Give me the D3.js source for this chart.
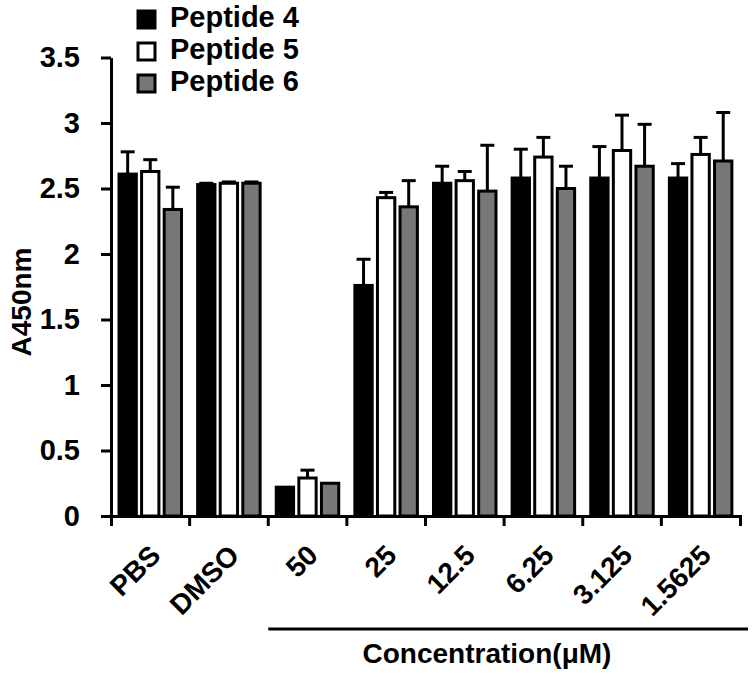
<!DOCTYPE html>
<html>
<head>
<meta charset="utf-8">
<script src="https://cdn.jsdelivr.net/npm/d3@7"></script>
<style>
  body { margin: 0; background: #fff; }
  text { font-family: "Liberation Sans", Arial, sans-serif; fill: #000; font-weight: bold; }
</style>
</head>
<body>
<div id="chart"></div>
<script>
// data
var categories = ["PBS", "DMSO", "50", "25", "12.5", "6.25", "3.125", "1.5625"];
var seriesNames = ["Peptide 4", "Peptide 5", "Peptide 6"];
var pep4 = [2.61, 2.53, 0.22, 1.76, 2.54, 2.58, 2.58, 2.58];
var pep4Err = [0.17, 0.01, 0, 0.20, 0.13, 0.22, 0.24, 0.11];
var pep5 = [2.63, 2.54, 0.29, 2.43, 2.56, 2.74, 2.79, 2.76];
var pep5Err = [0.09, 0.01, 0.06, 0.04, 0.07, 0.15, 0.27, 0.13];
var pep6 = [2.34, 2.54, 0.25, 2.36, 2.48, 2.50, 2.67, 2.71];
var pep6Err = [0.17, 0.01, 0, 0.20, 0.35, 0.17, 0.32, 0.37];
var yTicks = [0, 0.5, 1, 1.5, 2, 2.5, 3, 3.5];
var colors = ["#000000", "#ffffff", "#777777"];

var svgWidth = 752;
var svgHeight = 677;

var svg = d3.select("#chart").append("svg")
    .attr("width", svgWidth)
    .attr("height", svgHeight);

// build rows for the bars
var values = [pep4, pep5, pep6];
var errs = [pep4Err, pep5Err, pep6Err];
var rows = [];
categories.forEach(function(c, i) {
  seriesNames.forEach(function(s, j) {
    rows.push({cat: c, series: s, idx: j, value: values[j][i], err: errs[j][i]});
  });
});

// scales
var xScale = d3.scaleBand().domain(categories).range([111, 740]);
var xInner = d3.scaleBand().domain(seriesNames)
    .range([6.5, 72]).paddingInner(0.1);
var yScale = d3.scaleLinear().domain([0, 3.5]).range([516, 57.5]);

// y axis
var yAxis = svg.append("g")
    .attr("transform", "translate(111,0)")
    .call(d3.axisLeft(yScale).tickValues(yTicks)
      .tickFormat(d3.format("~g"))
      .tickSize(10).tickSizeOuter(0).tickPadding(21));
yAxis.selectAll("path, line").attr("stroke", "#000").attr("stroke-width", 3);
yAxis.selectAll("text").style("font-size", "29px")
    .style("font-family", "'Liberation Sans', Arial, sans-serif")
    .style("font-weight", "bold");

// bars
var barStroke = 3;
svg.append("g").selectAll("rect")
  .data(rows)
  .enter()
  .append("rect")
    .attr("x", d => xScale(d.cat) + xInner(d.series) + barStroke / 2)
    .attr("y", d => yScale(d.value))
    .attr("width", xInner.bandwidth() - barStroke)
    .attr("height", d => yScale(0) - yScale(d.value))
    .attr("fill", d => colors[d.idx])
    .attr("stroke", "#000")
    .attr("stroke-width", barStroke);

// error bars (upper only)
var errRows = rows.filter(d => d.err > 0);
var eb = svg.append("g").attr("stroke", "#000").attr("stroke-width", 3);
eb.selectAll("line.stem")
  .data(errRows)
  .enter()
  .append("line")
    .classed("stem", true)
    .attr("x1", d => xScale(d.cat) + xInner(d.series) + xInner.bandwidth() / 2)
    .attr("x2", d => xScale(d.cat) + xInner(d.series) + xInner.bandwidth() / 2)
    .attr("y1", d => yScale(d.value))
    .attr("y2", d => yScale(d.value + d.err));
eb.selectAll("line.cap")
  .data(errRows)
  .enter()
  .append("line")
    .classed("cap", true)
    .attr("x1", d => xScale(d.cat) + xInner(d.series) + xInner.bandwidth() / 2 - 7)
    .attr("x2", d => xScale(d.cat) + xInner(d.series) + xInner.bandwidth() / 2 + 7)
    .attr("y1", d => yScale(d.value + d.err))
    .attr("y2", d => yScale(d.value + d.err));

// x axis with ticks at the band edges
var xAxis = svg.append("g")
    .attr("transform", "translate(0,516)")
    .call(d3.axisBottom(xScale).tickSize(0).tickSizeOuter(10).tickFormat(""));
xAxis.selectAll("path").attr("stroke", "#000").attr("stroke-width", 3);
xAxis.selectAll(".tick").remove();
xAxis.selectAll("line.edge")
  .data(categories.slice(1))
  .enter()
  .append("line")
    .classed("edge", true)
    .attr("x1", d => xScale(d))
    .attr("x2", d => xScale(d))
    .attr("y1", 0)
    .attr("y2", 10)
    .attr("stroke", "#000")
    .attr("stroke-width", 3);

// rotated category labels
svg.append("g").selectAll("text")
  .data(categories)
  .enter()
  .append("text")
    .attr("transform", d => `translate(${xScale(d) + xScale.bandwidth() / 2 + 12}, 557) rotate(-45)`)
    .attr("text-anchor", "end")
    .attr("font-size", "28px")
    .text(d => d);

// concentration bracket and title
svg.append("line")
    .attr("x1", xScale("50"))
    .attr("x2", 748)
    .attr("y1", 629)
    .attr("y2", 629)
    .attr("stroke", "#000")
    .attr("stroke-width", 3);
svg.append("text")
    .attr("x", 487)
    .attr("y", 663)
    .attr("text-anchor", "middle")
    .attr("font-size", "28px")
    .text("Concentration(\u03bcM)");

// y axis title
svg.append("text")
    .attr("transform", "translate(31,302) rotate(-90)")
    .attr("text-anchor", "middle")
    .attr("font-size", "28px")
    .text("A450nm");

// legend
var legend = svg.append("g");
var items = legend.selectAll("g")
  .data(seriesNames)
  .enter()
  .append("g")
    .attr("transform", (d, i) => `translate(0, ${i * 32})`);
items.append("rect")
    .attr("x", 138)
    .attr("y", 11)
    .attr("width", 17)
    .attr("height", 17)
    .attr("fill", (d, i) => colors[i])
    .attr("stroke", "#000")
    .attr("stroke-width", 3);
items.append("text")
    .attr("x", 170)
    .attr("y", 27)
    .attr("font-size", "29px")
    .text(d => d);
</script>
</body>
</html>
